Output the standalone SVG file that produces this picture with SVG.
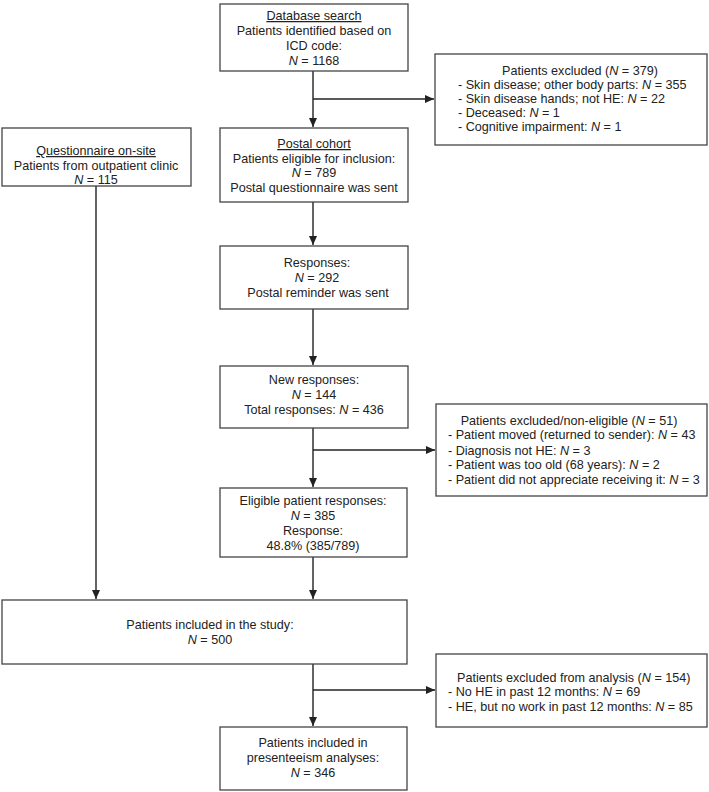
<svg xmlns="http://www.w3.org/2000/svg" width="709" height="792" viewBox="0 0 709 792">
<defs>
<style>
.box{fill:#fff;stroke:#444;stroke-width:1.3}
text{font-family:"Liberation Sans",Arial,sans-serif;font-size:12.6px;fill:#222}
.c{text-anchor:middle}
.u{text-decoration:underline}
.i{font-style:italic}
.ln{fill:none;stroke:#222;stroke-width:1.4}
</style>
<marker id="ah" markerWidth="10" markerHeight="10" refX="9" refY="5" orient="auto" markerUnits="userSpaceOnUse">
<path d="M0,1 L9,5 L0,9 Z" fill="#222"/>
</marker>
</defs>
<rect width="709" height="792" fill="#fff"/>

<g id="connectors">
<path class="ln" d="M313,71 V127" marker-end="url(#ah)"/>
<path class="ln" d="M313,99 H434" marker-end="url(#ah)"/>
<path class="ln" d="M313,202 V245" marker-end="url(#ah)"/>
<path class="ln" d="M313,309 V365" marker-end="url(#ah)"/>
<path class="ln" d="M313,428 V487" marker-end="url(#ah)"/>
<path class="ln" d="M313,450 H435" marker-end="url(#ah)"/>
<path class="ln" d="M313,557 V599" marker-end="url(#ah)"/>
<path class="ln" d="M96,186 V599" marker-end="url(#ah)"/>
<path class="ln" d="M313,664 V726" marker-end="url(#ah)"/>
<path class="ln" d="M313,690 H435" marker-end="url(#ah)"/>
</g>

<g id="database">
<rect class="box" x="220" y="4" width="188" height="67"/>
<text class="c u" x="314" y="20">Database search</text>
<text class="c" x="314" y="35">Patients identified based on</text>
<text class="c" x="314" y="50">ICD code:</text>
<text class="c" x="314" y="65"><tspan class="i">N</tspan> = 1168</text>
</g>

<g id="excluded1">
<rect class="box" x="435" y="54" width="272" height="91"/>
<text class="c" x="580" y="75">Patients excluded (<tspan class="i">N</tspan> = 379)</text>
<text x="458" y="89">- Skin disease; other body parts: <tspan class="i">N</tspan> = 355</text>
<text x="458" y="103">- Skin disease hands; not HE: <tspan class="i">N</tspan> = 22</text>
<text x="458" y="117">- Deceased: <tspan class="i">N</tspan> = 1</text>
<text x="458" y="131">- Cognitive impairment: <tspan class="i">N</tspan> = 1</text>
</g>

<g id="onsite">
<rect class="box" x="2" y="128" width="189" height="58"/>
<text class="c u" x="96" y="155">Questionnaire on-site</text>
<text class="c" x="96" y="170">Patients from outpatient clinic</text>
<text class="c" x="96" y="184"><tspan class="i">N</tspan> = 115</text>
</g>

<g id="postal">
<rect class="box" x="220" y="128" width="188" height="74"/>
<text class="c u" x="314" y="148">Postal cohort</text>
<text class="c" x="314" y="163">Patients eligible for inclusion:</text>
<text class="c" x="314" y="177"><tspan class="i">N</tspan> = 789</text>
<text class="c" x="314" y="192">Postal questionnaire was sent</text>
</g>

<g id="responses">
<rect class="box" x="220" y="246" width="188" height="63"/>
<text class="c" x="317" y="267">Responses:</text>
<text class="c" x="317" y="282"><tspan class="i">N</tspan> = 292</text>
<text class="c" x="318" y="297">Postal reminder was sent</text>
</g>

<g id="newresponses">
<rect class="box" x="220" y="366" width="188" height="62"/>
<text class="c" x="314" y="384">New responses:</text>
<text class="c" x="314" y="399"><tspan class="i">N</tspan> = 144</text>
<text class="c" x="314" y="414">Total responses: <tspan class="i">N</tspan> = 436</text>
</g>

<g id="excluded2">
<rect class="box" x="436" y="404" width="271" height="92"/>
<text class="c" x="569" y="425">Patients excluded/non-eligible (<tspan class="i">N</tspan> = 51)</text>
<text x="448" y="439">- Patient moved (returned to sender): <tspan class="i">N</tspan> = 43</text>
<text x="448" y="455">- Diagnosis not HE: <tspan class="i">N</tspan> = 3</text>
<text x="448" y="469">- Patient was too old (68 years): <tspan class="i">N</tspan> = 2</text>
<text x="448" y="484">- Patient did not appreciate receiving it: <tspan class="i">N</tspan> = 3</text>
</g>

<g id="eligible">
<rect class="box" x="220" y="488" width="187" height="69"/>
<text class="c" x="313" y="505">Eligible patient responses:</text>
<text class="c" x="313" y="520"><tspan class="i">N</tspan> = 385</text>
<text class="c" x="313" y="535">Response:</text>
<text class="c" x="313" y="550">48.8% (385/789)</text>
</g>

<g id="study">
<rect class="box" x="2" y="600" width="405" height="64"/>
<text class="c" x="210" y="629">Patients included in the study:</text>
<text class="c" x="210" y="644"><tspan class="i">N</tspan> = 500</text>
</g>

<g id="excluded3">
<rect class="box" x="436" y="654" width="271" height="73"/>
<text x="457" y="682">Patients excluded from analysis (<tspan class="i">N</tspan> = 154)</text>
<text x="448" y="696">- No HE in past 12 months: <tspan class="i">N</tspan> = 69</text>
<text x="448" y="711">- HE, but no work in past 12 months: <tspan class="i">N</tspan> = 85</text>
</g>

<g id="final">
<rect class="box" x="220" y="727" width="187" height="63"/>
<text class="c" x="313" y="747">Patients included in</text>
<text class="c" x="313" y="762">presenteeism analyses:</text>
<text class="c" x="313" y="777"><tspan class="i">N</tspan> = 346</text>
</g>
</svg>
